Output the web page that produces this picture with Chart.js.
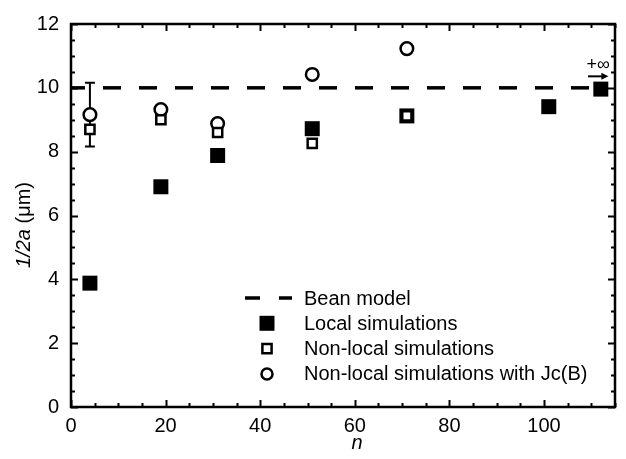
<!DOCTYPE html>
<html>
<head>
<meta charset="utf-8">
<script src="https://cdn.jsdelivr.net/npm/chart.js@4"></script>
<style>
    html, body { margin: 0; padding: 0; background: #fff; }
</style>
</head>
<body>
<canvas id="chart" width="626" height="459"></canvas>
<script>
// values
const localN = [4, 19, 31, 51, 71, 101, 112];
const localVals = [3.88, 6.9, 7.88, 8.72, 9.12, 9.41, 9.96];
const nonLocalN = [4, 19, 31, 51, 71];
const nonLocalVals = [8.7, 9.0, 8.6, 8.26, 9.12];
const jcbN = [4, 19, 31, 51, 71];
const jcbVals = [9.16, 9.32, 8.88, 10.42, 11.23];
const errN = 4;
const errCenter = 9.16;
const errSize = 1.0;
const beanN = [0, 110];
const beanVals = [10, 10];
const xTickValues = [0, 20, 40, 60, 80, 100];
const yTickValues = [0, 2, 4, 6, 8, 10, 12];

const FONT = "'Liberation Sans', Arial, sans-serif";
const pts = (xs, ys) => xs.map((x, i) => ({ x: x, y: ys[i] }));

// frame, inward ticks, error bar, legend, axis titles
const decor = {
    id: 'decor',
    beforeDatasetsDraw(chart) {
        const ctx = chart.ctx;
        const xs = chart.scales.x, ys = chart.scales.y;
        const px = xs.getPixelForValue(errN);
        const top = ys.getPixelForValue(errCenter + errSize);
        const bot = ys.getPixelForValue(errCenter - errSize);
        ctx.save();
        ctx.strokeStyle = '#000';
        ctx.lineWidth = 2;
        ctx.beginPath();
        ctx.moveTo(px, top); ctx.lineTo(px, bot);
        ctx.moveTo(px - 5, top); ctx.lineTo(px + 5, top);
        ctx.moveTo(px - 5, bot); ctx.lineTo(px + 5, bot);
        ctx.stroke();
        ctx.restore();
    },
    afterDraw(chart) {
        const ctx = chart.ctx;
        const a = chart.chartArea;
        const xs = chart.scales.x, ys = chart.scales.y;
        ctx.save();
        ctx.strokeStyle = '#000';
        ctx.fillStyle = '#000';
        ctx.lineWidth = 2.5;
        ctx.strokeRect(a.left, a.top, a.right - a.left, a.bottom - a.top);

        ctx.lineWidth = 2;
        ctx.beginPath();
        for (let v = 0; v <= xs.max + 1e-6; v += 5) {
            const p = Math.round(xs.getPixelForValue(v)) + 0.5;
            const len = v % 20 === 0 ? 7 : 4;
            ctx.moveTo(p, a.bottom); ctx.lineTo(p, a.bottom - len);
            ctx.moveTo(p, a.top); ctx.lineTo(p, a.top + len);
        }
        for (let v = 0; v <= ys.max + 1e-6; v += 0.5) {
            const p = Math.round(ys.getPixelForValue(v)) + 0.5;
            const len = v % 2 === 0 ? 7 : 4;
            ctx.moveTo(a.left, p); ctx.lineTo(a.left + len, p);
            ctx.moveTo(a.right, p); ctx.lineTo(a.right - len, p);
        }
        ctx.stroke();

        // +inf arrow above the last point
        const ay = ys.getPixelForValue(10.36);
        const ax0 = xs.getPixelForValue(109.3), ax1 = xs.getPixelForValue(113.6);
        ctx.lineWidth = 2;
        ctx.beginPath();
        ctx.moveTo(ax0, ay); ctx.lineTo(ax1 - 5, ay);
        ctx.stroke();
        ctx.beginPath();
        ctx.moveTo(ax1, ay); ctx.lineTo(ax1 - 7, ay - 3.5); ctx.lineTo(ax1 - 7, ay + 3.5);
        ctx.closePath();
        ctx.fill();
        ctx.font = '18px ' + FONT;
        ctx.textAlign = 'center';
        ctx.textBaseline = 'alphabetic';
        ctx.fillText('+\u221e', (ax0 + ax1) / 2, ay - 6);

        // legend
        const lx = 267, ly0 = 298, step = 25.3;
        const ds = chart.data.datasets;
        ctx.font = '20px ' + FONT;
        ctx.textAlign = 'left';
        ctx.textBaseline = 'middle';
        ds.forEach((d, i) => {
            const y = ly0 + i * step;
            if (d.legendKind === 'line') {
                ctx.lineWidth = d.borderWidth;
                ctx.beginPath();
                ctx.moveTo(245, y); ctx.lineTo(260, y);
                ctx.moveTo(279, y); ctx.lineTo(292, y);
                ctx.stroke();
            } else {
                const r = d.legendRadius;
                ctx.fillStyle = d.backgroundColor;
                ctx.strokeStyle = d.borderColor;
                ctx.lineWidth = d.borderWidth;
                ctx.beginPath();
                if (d.pointStyle === 'rect') {
                    const s = r * Math.SQRT1_2;
                    ctx.rect(lx - s, y - s, 2 * s, 2 * s);
                } else {
                    ctx.arc(lx, y, r, 0, Math.PI * 2);
                }
                ctx.fill();
                if (d.borderWidth > 0) ctx.stroke();
                ctx.fillStyle = '#000';
                ctx.strokeStyle = '#000';
            }
            ctx.fillText(d.label, 304, y + 1);
        });

        // axis titles
        ctx.font = 'italic 20px ' + FONT;
        ctx.textAlign = 'center';
        ctx.textBaseline = 'middle';
        ctx.fillText('n', 357, 443);

        ctx.save();
        ctx.translate(24, 225);
        ctx.rotate(-Math.PI / 2);
        const it = '1/2a', rest = ' (\u03bcm)';
        ctx.font = 'italic 20px ' + FONT;
        const w1 = ctx.measureText(it).width;
        ctx.font = '20px ' + FONT;
        const w2 = ctx.measureText(rest).width;
        const start = -(w1 + w2) / 2;
        ctx.textAlign = 'left';
        ctx.textBaseline = 'middle';
        ctx.font = 'italic 20px ' + FONT;
        ctx.fillText(it, start, 0);
        ctx.font = '20px ' + FONT;
        ctx.fillText(rest, start + w1, 0);
        ctx.restore();

        ctx.restore();
    }
};

new Chart(document.getElementById('chart'), {
    type: 'scatter',
    data: {
        datasets: [
            {
                label: 'Bean model',
                type: 'line',
                data: pts(beanN, beanVals),
                borderColor: '#000',
                borderWidth: 3.5,
                borderDash: [18, 18],
                borderDashOffset: 4,
                pointRadius: 0,
                fill: false,
                legendKind: 'line',
                order: 4
            },
            {
                label: 'Local simulations',
                data: pts(localN, localVals),
                pointStyle: 'rect',
                pointRadius: 10.6,
                legendRadius: 10.6,
                backgroundColor: '#000',
                borderColor: '#000',
                borderWidth: 0,
                order: 3
            },
            {
                label: 'Non-local simulations',
                data: pts(nonLocalN, nonLocalVals),
                pointStyle: 'rect',
                pointRadius: 6.5,
                legendRadius: 6.5,
                backgroundColor: '#fff',
                borderColor: '#000',
                borderWidth: 2.5,
                order: 1
            },
            {
                label: 'Non-local simulations with Jc(B)',
                data: pts(jcbN, jcbVals),
                pointStyle: 'circle',
                pointRadius: 6.3,
                legendRadius: 5.5,
                backgroundColor: '#fff',
                borderColor: '#000',
                borderWidth: 2.5,
                order: 2
            }
        ]
    },
    options: {
        responsive: false,
        animation: false,
        maintainAspectRatio: false,
        layout: { padding: { top: 19, right: 11, left: 0, bottom: 0 } },
        plugins: { legend: { display: false }, tooltip: { enabled: false } },
        scales: {
            x: {
                type: 'linear',
                min: 0, max: 115,
                afterBuildTicks: s => { s.ticks = xTickValues.map(v => ({ value: v })); },
                afterFit: s => { s.height = 52; },
                grid: { display: false, drawTicks: false },
                border: { display: false },
                ticks: { color: '#000', font: { family: FONT, size: 20 }, padding: 7, maxRotation: 0 }
            },
            y: {
                type: 'linear',
                min: 0, max: 12,
                afterBuildTicks: s => { s.ticks = yTickValues.map(v => ({ value: v })); },
                afterFit: s => { s.width = 71; },
                grid: { display: false, drawTicks: false },
                border: { display: false },
                ticks: { color: '#000', font: { family: FONT, size: 20 }, padding: 12 }
            }
        }
    },
    plugins: [decor]
});
</script>
</body>
</html>
